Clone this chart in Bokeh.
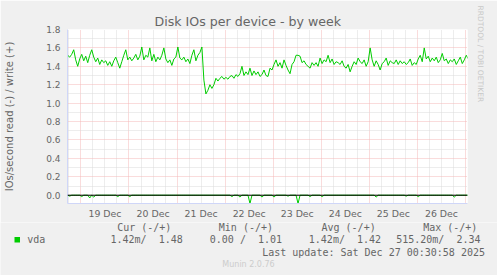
from math import pi
from bokeh.plotting import figure
from bokeh.layouts import column
from bokeh.models import Label, FixedTicker, Span, BoxAnnotation, PrintfTickFormatter, Title
from bokeh.embed import file_html
from bokeh.resources import INLINE

# ---- data (hours since 19 Dec 00:00, hourly samples) ----
hours = [k - 6.6 for k in range(201)]

write_iops = [
    1.52, 1.50, 1.53, 1.58, 1.47, 1.40, 1.48, 1.53, 1.46, 1.51,
    1.44, 1.52, 1.58, 1.50, 1.45, 1.49, 1.42, 1.47, 1.44, 1.46,
    1.41, 1.45, 1.40, 1.46, 1.50, 1.44, 1.38, 1.45, 1.52, 1.58,
    1.47, 1.50, 1.46, 1.49, 1.53, 1.47, 1.51, 1.61, 1.47, 1.52,
    1.50, 1.60, 1.46, 1.53, 1.45, 1.50, 1.47, 1.52, 1.60, 1.48,
    1.44, 1.47, 1.41, 1.48, 1.50, 1.61, 1.49, 1.47, 1.50, 1.45,
    1.48, 1.43, 1.52, 1.58, 1.46, 1.52, 1.55, 1.61, 1.25, 1.10,
    1.14, 1.20, 1.16, 1.20, 1.27, 1.24, 1.27, 1.29, 1.26, 1.28,
    1.26, 1.29, 1.30, 1.27, 1.31, 1.29, 1.32, 1.40, 1.30, 1.34,
    1.31, 1.38, 1.30, 1.35, 1.31, 1.34, 1.29, 1.31, 1.36, 1.30,
    1.29, 1.38, 1.36, 1.42, 1.47, 1.40, 1.44, 1.38, 1.47, 1.41,
    1.36, 1.32, 1.42, 1.45, 1.52, 1.52, 1.51, 1.44, 1.46, 1.42,
    1.40, 1.38, 1.44, 1.41, 1.44, 1.40, 1.49, 1.43, 1.47, 1.45,
    1.52, 1.44, 1.48, 1.42, 1.45, 1.44, 1.42, 1.46, 1.40, 1.38,
    1.42, 1.34, 1.40, 1.45, 1.42, 1.49, 1.45, 1.43, 1.47, 1.40,
    1.45, 1.60, 1.47, 1.40, 1.46, 1.42, 1.36, 1.43, 1.45, 1.49,
    1.41, 1.46, 1.44, 1.43, 1.47, 1.42, 1.46, 1.43, 1.45, 1.42,
    1.44, 1.48, 1.41, 1.44, 1.42, 1.48, 1.52, 1.45, 1.60, 1.48,
    1.51, 1.45, 1.49, 1.46, 1.50, 1.44, 1.47, 1.54, 1.46, 1.48,
    1.43, 1.47, 1.45, 1.48, 1.42, 1.46, 1.50, 1.43, 1.47, 1.52,
    1.48,
]

read_iops = [
    0.0, -0.01, 0.0, 0.0, 0.0, 0.0, 0.0, -0.015, 0.0, 0.0,
    0.0, -0.03, 0.0, -0.02, 0.0, 0.0, 0.0, 0.0, 0.0, 0.0,
    0.0, 0.0, 0.0, 0.0, 0.0, -0.015, 0.0, 0.0, 0.0, 0.0,
    0.0, -0.015, 0.0, 0.0, 0.0, 0.0, 0.0, 0.0, 0.0, 0.0,
    0.0, 0.0, 0.0, 0.0, 0.0, 0.0, 0.0, 0.0, 0.0, 0.0,
    0.0, 0.0, 0.0, 0.0, 0.0, 0.0, 0.0, 0.0, 0.0, 0.0,
    0.0, 0.0, 0.0, 0.0, 0.0, 0.0, 0.0, 0.0, 0.0, 0.0,
    0.0, 0.0, 0.0, 0.0, 0.0, 0.0, 0.0, 0.0, 0.0, 0.0,
    0.0, 0.0, -0.015, 0.0, 0.0, 0.0, -0.02, 0.0, 0.0, 0.0,
    0.0, -0.09, 0.0, 0.0, 0.0, 0.0, 0.0, -0.02, 0.0, 0.0,
    0.0, 0.0, 0.0, -0.02, 0.0, 0.0, 0.0, 0.0, 0.0, 0.0,
    -0.01, 0.0, 0.0, 0.0, 0.0, -0.09, 0.0, 0.0, 0.0, 0.0,
    0.0, -0.015, 0.0, 0.0, 0.0, 0.0, 0.0, -0.015, 0.0, 0.0,
    0.0, 0.0, 0.0, 0.0, 0.0, 0.0, 0.0, 0.0, 0.0, 0.0,
    0.0, 0.0, 0.0, 0.0, 0.0, 0.0, 0.0, 0.0, 0.0, 0.0,
    0.0, 0.0, 0.0, 0.0, -0.02, 0.0, 0.0, 0.0, 0.0, 0.0,
    0.0, 0.0, 0.0, 0.0, 0.0, 0.0, 0.0, 0.0, 0.0, -0.01,
    0.0, 0.0, 0.0, 0.0, 0.0, -0.015, 0.0, 0.0, 0.0, 0.0,
    0.0, 0.0, 0.0, 0.0, 0.0, 0.0, 0.0, 0.0, 0.0, 0.0,
    0.0, 0.0, 0.0, -0.02, 0.0, 0.0, 0.0, 0.0, 0.0, 0.0,
    0.0,
]

day_labels = ["19 Dec", "20 Dec", "21 Dec", "22 Dec", "23 Dec", "24 Dec", "25 Dec", "26 Dec"]
day_noon = [12, 36, 60, 84, 108, 132, 156, 180]
midnights = [0, 24, 48, 72, 96, 120, 144, 168, 192]
six_hours = [-6, 6, 12, 18, 30, 36, 42, 54, 60, 66, 78, 84, 90, 102, 108, 114,
             126, 132, 138, 150, 156, 162, 174, 180, 186]
y_ticks = [0.0, 0.2, 0.4, 0.6, 0.8, 1.0, 1.2, 1.4, 1.6, 1.8]
y_minor = [0.1, 0.3, 0.5, 0.7, 0.9, 1.1, 1.3, 1.5, 1.7]

legend_header = ["Cur (-/+)", "Min (-/+)", "Avg (-/+)", "Max (-/+)"]
legend_values = ["1.42m/\u00a0\u00a01.48", "0.00\u00a0/\u00a0\u00a01.01",
                 "1.42m/\u00a0\u00a01.42", "515.20m/\u00a0\u00a02.34"]
series_name = "vda"
last_update = "Last update: Sat Dec 27 00:30:58 2025"

GREEN = "#00CC00"
FONT = "#666666"
BACK = "#F0F0F0"
AXIS = "#CFD6F8"

# ---------------- main graph ----------------
p = figure(width=497, height=222, x_range=(-6.7, 193.0), y_range=(-0.09, 1.8),
           output_backend="svg", toolbar_location=None,
           min_border_left=67, min_border_right=30, min_border_top=29, min_border_bottom=19)
p.frame_align = False
p.background_fill_color = "white"
p.border_fill_color = BACK
p.outline_line_color = None

p.xgrid.ticker = FixedTicker(ticks=midnights, minor_ticks=six_hours)
p.ygrid.ticker = FixedTicker(ticks=y_ticks, minor_ticks=y_minor)
for g in (p.xgrid, p.ygrid):
    g.grid_line_color = "#F4B8B8"
    g.grid_line_dash = "1 1"
    g.minor_grid_line_color = "#DADADA"
    g.minor_grid_line_dash = "1 1"

p.xaxis.ticker = FixedTicker(ticks=day_noon)
p.xaxis.major_label_overrides = {t: l for t, l in zip(day_noon, day_labels)}
p.yaxis.ticker = FixedTicker(ticks=y_ticks)
p.yaxis.formatter = PrintfTickFormatter(format="%.1f")
for ax in (p.xaxis, p.yaxis):
    ax.axis_line_color = AXIS
    ax.major_tick_line_color = None
    ax.minor_tick_line_color = None
    ax.major_tick_out = 0
    ax.major_tick_in = 0
    ax.minor_tick_out = 0
    ax.minor_tick_in = 0
    ax.major_label_text_color = FONT
    ax.major_label_text_font = "DejaVu Sans"
p.xaxis.major_label_text_font_size = "9.4px"
p.yaxis.major_label_text_font_size = "9px"
p.xaxis.major_label_standoff = 4
p.yaxis.major_label_standoff = 7
p.yaxis.axis_label = "IOs/second read (-) / write (+)"
p.yaxis.axis_label_text_font = "DejaVu Sans"
p.yaxis.axis_label_text_font_size = "10px"
p.yaxis.axis_label_text_font_style = "normal"
p.yaxis.axis_label_text_color = FONT
p.yaxis.axis_label_standoff = 28

p.line(hours, read_iops, line_color=GREEN, line_width=1)
p.add_layout(Span(location=0, dimension="width", line_color="black", line_width=1))
p.line(hours, write_iops, line_color=GREEN, line_width=1)

p.add_layout(Title(text="Disk IOs per device - by week", align="left", offset=87,
                   text_font="DejaVu Sans", text_font_size="12.6px", text_font_style="normal",
                   text_color=FONT, standoff=2), "above")
p.add_layout(Title(text="RRDTOOL / TOBI OETIKER", align="left", offset=-24,
                   text_font="DejaVu Sans", text_font_size="7.5px", text_font_style="normal",
                   text_color="#C8C8C8", standoff=16), "right")

# ---------------- legend strip ----------------
leg = figure(width=497, height=53, x_range=(0, 497), y_range=(53, 0),
             output_backend="svg", toolbar_location=None,
             min_border=0, min_border_left=0, min_border_right=0,
             min_border_top=0, min_border_bottom=0)
leg.frame_align = False
leg.axis.visible = False
leg.grid.visible = False
leg.background_fill_color = BACK
leg.border_fill_color = BACK
leg.outline_line_color = None


def lab(text, x, y, size, font="DejaVu Sans Mono", color=FONT, align="left"):
    leg.add_layout(Label(x=x, y=y, x_units="canvas", y_units="canvas", text=text,
                         text_font=font, text_font_size=size, text_color=color,
                         text_align=align, text_baseline="middle"))


hx = [116.7, 218.3, 321.0, 422.7]
vx = [110.0, 209.3, 308.3, 395.7]
for t, x in zip(legend_header, hx):
    lab(t, x, 5.3, "10px")
for t, x in zip(legend_values, vx):
    lab(t, x, 17.3, "10px")
lab(series_name, 26.7, 17.3, "10px")
lab(last_update, 261.7, 29.7, "10px")
lab("Munin 2.0.76", 248, 42, "8px", font="DejaVu Sans", color="#CCCCCC", align="center")
leg.add_layout(BoxAnnotation(left=14, right=19.5, top=14.5, bottom=20,
                             left_units="canvas", right_units="canvas",
                             top_units="canvas", bottom_units="canvas",
                             fill_color=GREEN, fill_alpha=1.0, line_color=None))

layout = column(p, leg, spacing=0)
open("out.html", "w").write(file_html(layout, INLINE))
